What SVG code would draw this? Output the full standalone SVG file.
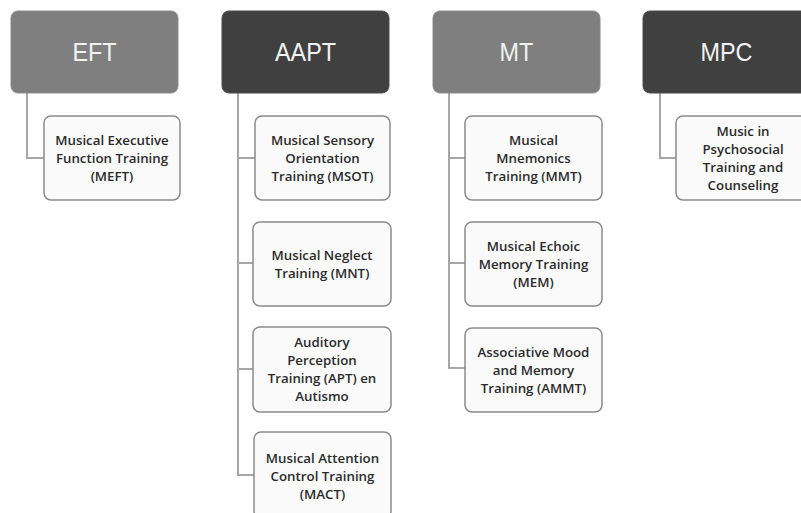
<svg xmlns="http://www.w3.org/2000/svg" width="801" height="513" viewBox="0 0 801 513">
<style>
.hdr-l{fill:#7f7f7f;stroke:#8c8c8c;stroke-width:1}
.hdr-d{fill:#404040;stroke:#4a4a4a;stroke-width:1}
.ht{font-family:"Liberation Sans",Arial,sans-serif;font-size:26px;fill:#f2f2f2;text-anchor:middle;dominant-baseline:central}
.cb{fill:#fafafa;stroke:#8a8a8a;stroke-width:1.5}
.ct{font-family:"Open Sans","Noto Sans",sans-serif;font-weight:600;font-size:13.3px;fill:#2b2b2b;text-anchor:middle;dominant-baseline:central}
.con{fill:none;stroke:#a6a6a6;stroke-width:2}
</style>
<rect width="801" height="513" fill="#ffffff"/>
<g id="connectors">
<path class="con" d="M27 93 V158 H44"/>
<path class="con" d="M238 93 V475 H255 M238 158 H255 M238 263 H253 M238 369 H253"/>
<path class="con" d="M449 93 V368 H465 M449 158 H465 M449 263 H465"/>
<path class="con" d="M660 93 V158 H676"/>
</g>
<g id="EFT"><rect class="hdr-l" x="11" y="11" width="167" height="82" rx="7"/><text class="ht" x="94.5" y="52" transform="translate(94.5 0) scale(0.9 1) translate(-94.5 0)">EFT</text></g>
<g id="AAPT"><rect class="hdr-d" x="222" y="11" width="167" height="82" rx="7"/><text class="ht" x="305.5" y="52" transform="translate(305.5 0) scale(0.9 1) translate(-305.5 0)">AAPT</text></g>
<g id="MT"><rect class="hdr-l" x="433" y="11" width="167" height="82" rx="7"/><text class="ht" x="516.5" y="52" transform="translate(516.5 0) scale(0.9 1) translate(-516.5 0)">MT</text></g>
<g id="MPC"><rect class="hdr-d" x="643" y="11" width="167" height="82" rx="7"/><text class="ht" x="726.5" y="52" transform="translate(726.5 0) scale(0.9 1) translate(-726.5 0)">MPC</text></g>
<g id="MEFT"><rect class="cb" x="44" y="116" width="136" height="84" rx="7"/>
<text class="ct" x="112" y="140">Musical Executive</text><text class="ct" x="112" y="158">Function Training</text><text class="ct" x="112" y="176">(MEFT)</text></g>
<g id="MSOT"><rect class="cb" x="255" y="116" width="135" height="84" rx="7"/>
<text class="ct" x="322.5" y="140">Musical Sensory</text><text class="ct" x="322.5" y="158">Orientation</text><text class="ct" x="322.5" y="176">Training (MSOT)</text></g>
<g id="MNT"><rect class="cb" x="253" y="222" width="138" height="84" rx="7"/>
<text class="ct" x="322" y="255">Musical Neglect</text><text class="ct" x="322" y="273">Training (MNT)</text></g>
<g id="APT"><rect class="cb" x="253" y="327" width="138" height="85" rx="7"/>
<text class="ct" x="322" y="342">Auditory</text><text class="ct" x="322" y="360">Perception</text><text class="ct" x="322" y="378">Training (APT) en</text><text class="ct" x="322" y="396">Autismo</text></g>
<g id="MACT"><rect class="cb" x="254" y="432" width="137" height="86" rx="7"/>
<text class="ct" x="322.5" y="458">Musical Attention</text><text class="ct" x="322.5" y="476">Control Training</text><text class="ct" x="322.5" y="494">(MACT)</text></g>
<g id="MMT"><rect class="cb" x="465" y="116" width="137" height="84" rx="7"/>
<text class="ct" x="533.5" y="140">Musical</text><text class="ct" x="533.5" y="158">Mnemonics</text><text class="ct" x="533.5" y="176">Training (MMT)</text></g>
<g id="MEM"><rect class="cb" x="465" y="222" width="137" height="84" rx="7"/>
<text class="ct" x="533.5" y="246">Musical Echoic</text><text class="ct" x="533.5" y="264">Memory Training</text><text class="ct" x="533.5" y="282">(MEM)</text></g>
<g id="AMMT"><rect class="cb" x="465" y="328" width="137" height="84" rx="7"/>
<text class="ct" x="533.5" y="352">Associative Mood</text><text class="ct" x="533.5" y="370">and Memory</text><text class="ct" x="533.5" y="388">Training (AMMT)</text></g>
<g id="MPCT"><rect class="cb" x="676" y="116" width="136" height="84" rx="7"/>
<text class="ct" x="743" y="131">Music in</text><text class="ct" x="743" y="149">Psychosocial</text><text class="ct" x="743" y="167">Training and</text><text class="ct" x="743" y="185">Counseling</text></g>
</svg>
